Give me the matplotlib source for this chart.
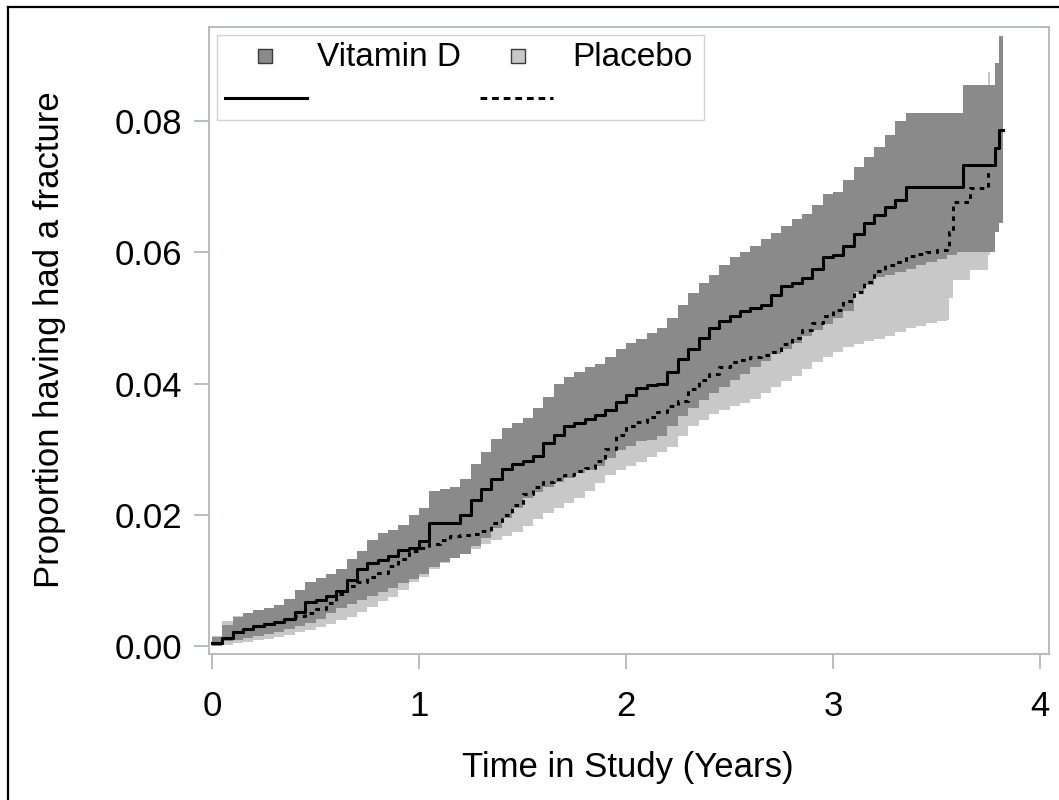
import matplotlib
matplotlib.use("Agg")
import matplotlib.pyplot as plt
from matplotlib.patches import Rectangle
from matplotlib.lines import Line2D

plt.rcParams['font.family'] = ['Liberation Sans', 'DejaVu Sans']

# ---------------- data ----------------
vit_time = [0.00, 0.05, 0.10, 0.15, 0.20, 0.25, 0.30, 0.35, 0.40, 0.45, 0.50, 0.55, 0.60, 0.65,
            0.70, 0.75, 0.80, 0.85, 0.90, 0.95, 1.00, 1.05, 1.10, 1.15, 1.20, 1.25, 1.30, 1.35,
            1.40, 1.45, 1.50, 1.55, 1.60, 1.65, 1.70, 1.75, 1.80, 1.85, 1.90, 1.95, 2.00, 2.05,
            2.10, 2.15, 2.20, 2.25, 2.30, 2.35, 2.40, 2.45, 2.50, 2.55, 2.60, 2.65, 2.70, 2.75,
            2.80, 2.85, 2.90, 2.95, 3.00, 3.05, 3.10, 3.15, 3.20, 3.25, 3.30, 3.35, 3.40, 3.45,
            3.50, 3.55, 3.60, 3.63, 3.78, 3.80, 3.82]
vit_est = [0.0005, 0.0012, 0.0021, 0.0026, 0.0031, 0.0034, 0.0037, 0.0041, 0.0052, 0.0067,
           0.0071, 0.0077, 0.0084, 0.0100, 0.0118, 0.0126, 0.0131, 0.0138, 0.0146, 0.0149,
           0.0160, 0.0187, 0.0187, 0.0187, 0.0200, 0.0222, 0.0240, 0.0255, 0.0270, 0.0277,
           0.0282, 0.0290, 0.0309, 0.0322, 0.0336, 0.0340, 0.0346, 0.0352, 0.0360, 0.0372,
           0.0382, 0.0393, 0.0398, 0.0400, 0.0418, 0.0438, 0.0452, 0.0470, 0.0484, 0.0495,
           0.0503, 0.0510, 0.0515, 0.0520, 0.0535, 0.0548, 0.0553, 0.0560, 0.0575, 0.0593,
           0.0595, 0.0610, 0.0627, 0.0644, 0.0656, 0.0669, 0.0680, 0.0700, 0.0700, 0.0700,
           0.0700, 0.0700, 0.0700, 0.0733, 0.0759, 0.0786, 0.0786]
vit_upper = [0.0014, 0.0032, 0.0044, 0.0050, 0.0055, 0.0058, 0.0062, 0.0072, 0.0085, 0.0098,
             0.0103, 0.0110, 0.0118, 0.0132, 0.0145, 0.0162, 0.0172, 0.0177, 0.0185, 0.0200,
             0.0210, 0.0236, 0.0240, 0.0242, 0.0255, 0.0278, 0.0295, 0.0315, 0.0332, 0.0340,
             0.0348, 0.0362, 0.0380, 0.0400, 0.0410, 0.0418, 0.0425, 0.0430, 0.0440, 0.0452,
             0.0462, 0.0468, 0.0477, 0.0485, 0.0500, 0.0520, 0.0538, 0.0553, 0.0566, 0.0580,
             0.0592, 0.0600, 0.0610, 0.0620, 0.0629, 0.0640, 0.0650, 0.0658, 0.0672, 0.0688,
             0.0692, 0.0710, 0.0730, 0.0745, 0.0760, 0.0778, 0.0800, 0.0812, 0.0812, 0.0812,
             0.0812, 0.0812, 0.0812, 0.0855, 0.0888, 0.0930, 0.0930]
vit_lower = [0.0000, 0.0008, 0.0009, 0.0013, 0.0016, 0.0019, 0.0021, 0.0026, 0.0031, 0.0035,
             0.0042, 0.0050, 0.0058, 0.0064, 0.0070, 0.0077, 0.0082, 0.0088, 0.0096, 0.0102,
             0.0110, 0.0120, 0.0128, 0.0134, 0.0140, 0.0152, 0.0165, 0.0180, 0.0195, 0.0210,
             0.0225, 0.0235, 0.0243, 0.0250, 0.0256, 0.0263, 0.0269, 0.0275, 0.0287, 0.0298,
             0.0305, 0.0312, 0.0314, 0.0320, 0.0335, 0.0350, 0.0362, 0.0375, 0.0385, 0.0395,
             0.0405, 0.0415, 0.0425, 0.0435, 0.0445, 0.0452, 0.0462, 0.0472, 0.0482, 0.0490,
             0.0500, 0.0510, 0.0540, 0.0550, 0.0562, 0.0565, 0.0570, 0.0575, 0.0580, 0.0585,
             0.0590, 0.0595, 0.0600, 0.0600, 0.0630, 0.0645, 0.0645]

pla_time = [0.00, 0.05, 0.10, 0.15, 0.20, 0.25, 0.30, 0.35, 0.40, 0.45, 0.50, 0.55, 0.60, 0.65,
            0.70, 0.75, 0.80, 0.85, 0.90, 0.95, 1.00, 1.05, 1.10, 1.15, 1.20, 1.25, 1.30, 1.35,
            1.40, 1.45, 1.50, 1.55, 1.60, 1.65, 1.70, 1.75, 1.80, 1.85, 1.90, 1.95, 2.00, 2.05,
            2.10, 2.15, 2.20, 2.25, 2.30, 2.35, 2.40, 2.45, 2.50, 2.55, 2.60, 2.65, 2.70, 2.75,
            2.80, 2.85, 2.90, 2.95, 3.00, 3.05, 3.10, 3.15, 3.20, 3.25, 3.30, 3.35, 3.40, 3.45,
            3.50, 3.55, 3.56, 3.58, 3.66, 3.75, 3.76]
pla_est = [0.0005, 0.0013, 0.0021, 0.0026, 0.0030, 0.0033, 0.0036, 0.0041, 0.0046, 0.0051,
           0.0057, 0.0066, 0.0080, 0.0091, 0.0098, 0.0106, 0.0112, 0.0122, 0.0132, 0.0145,
           0.0150, 0.0155, 0.0162, 0.0167, 0.0169, 0.0171, 0.0175, 0.0188, 0.0200, 0.0215,
           0.0232, 0.0243, 0.0250, 0.0255, 0.0260, 0.0266, 0.0272, 0.0282, 0.0300, 0.0322,
           0.0335, 0.0342, 0.0349, 0.0356, 0.0365, 0.0373, 0.0392, 0.0405, 0.0415, 0.0425,
           0.0432, 0.0436, 0.0440, 0.0444, 0.0448, 0.0460, 0.0470, 0.0482, 0.0492, 0.0503,
           0.0512, 0.0525, 0.0540, 0.0555, 0.0572, 0.0580, 0.0585, 0.0594, 0.0598, 0.0601,
           0.0604, 0.0610, 0.0630, 0.0677, 0.0698, 0.0722, 0.0722]
pla_upper = [0.0015, 0.0038, 0.0046, 0.0050, 0.0054, 0.0056, 0.0058, 0.0062, 0.0068, 0.0075,
             0.0083, 0.0095, 0.0110, 0.0122, 0.0130, 0.0140, 0.0150, 0.0160, 0.0172, 0.0185,
             0.0192, 0.0196, 0.0202, 0.0206, 0.0208, 0.0210, 0.0215, 0.0228, 0.0242, 0.0260,
             0.0278, 0.0290, 0.0297, 0.0302, 0.0307, 0.0312, 0.0318, 0.0330, 0.0350, 0.0370,
             0.0385, 0.0392, 0.0400, 0.0408, 0.0418, 0.0428, 0.0450, 0.0463, 0.0475, 0.0485,
             0.0492, 0.0497, 0.0502, 0.0505, 0.0510, 0.0522, 0.0535, 0.0548, 0.0558, 0.0570,
             0.0580, 0.0595, 0.0610, 0.0628, 0.0648, 0.0656, 0.0662, 0.0672, 0.0676, 0.0680,
             0.0683, 0.0690, 0.0715, 0.0770, 0.0795, 0.0875, 0.0875]
pla_lower = [0.0000, 0.0002, 0.0004, 0.0006, 0.0009, 0.0011, 0.0014, 0.0017, 0.0021, 0.0024,
             0.0029, 0.0034, 0.0040, 0.0045, 0.0052, 0.0060, 0.0068, 0.0075, 0.0085, 0.0097,
             0.0106, 0.0118, 0.0127, 0.0135, 0.0141, 0.0148, 0.0155, 0.0162, 0.0168, 0.0174,
             0.0183, 0.0193, 0.0203, 0.0211, 0.0218, 0.0226, 0.0236, 0.0248, 0.0260, 0.0268,
             0.0275, 0.0280, 0.0288, 0.0296, 0.0303, 0.0320, 0.0335, 0.0345, 0.0353, 0.0360,
             0.0365, 0.0370, 0.0376, 0.0386, 0.0395, 0.0404, 0.0412, 0.0422, 0.0432, 0.0440,
             0.0448, 0.0455, 0.0460, 0.0465, 0.0468, 0.0472, 0.0478, 0.0484, 0.0488, 0.0492,
             0.0495, 0.0497, 0.0530, 0.0558, 0.0573, 0.0595, 0.0595]

x_ticks = [0, 1, 2, 3, 4]
y_ticks = [0.00, 0.02, 0.04, 0.06, 0.08]
y_tick_labels = ["0.00", "0.02", "0.04", "0.06", "0.08"]
group_names = ["Vitamin D", "Placebo"]
x_title = "Time in Study (Years)"
y_title = "Proportion having had a fracture"

# ---------------- styling ----------------
W, H = 1059, 800
DARK = '#8a8a8a'
LIGHT = '#c8c8c8'
AXCOL = '#b3b8bc'
FS = 25
LFS = 24

fig = plt.figure(figsize=(W / 100, H / 100), dpi=100)
ax = fig.add_axes([209 / W, (H - 654) / H, 840 / W, 627 / H])

ax.fill_between(pla_time, pla_lower, pla_upper, step='post', color=LIGHT, lw=0)
ax.fill_between(vit_time, vit_lower, vit_upper, step='post', color=DARK, lw=0)
ax.plot(pla_time, pla_est, drawstyle='steps-post', color='black', lw=2.2,
        linestyle=(0, (1.5, 1.7)))
ax.plot(vit_time, vit_est, drawstyle='steps-post', color='black', lw=2.2)

ax.set_xlim(-0.0145, 4.043)
ax.set_ylim(-0.0012, 0.0943)
ax.set_xticks(x_ticks)
ax.set_xticklabels([str(v) for v in x_ticks])
ax.set_yticks(y_ticks)
ax.set_yticklabels(y_tick_labels)
for s in ax.spines.values():
    s.set_color(AXCOL)
    s.set_linewidth(1.3)
ax.tick_params(axis='both', colors=AXCOL, labelcolor='black', labelsize=FS,
               length=11, width=1.3, direction='out')
ax.tick_params(axis='x', pad=15)
ax.tick_params(axis='y', pad=8.5)

fig.text(628 / W, 1 - 768 / H, x_title, ha='center', va='center', fontsize=FS)
fig.text(50 / W, 1 - 340 / H, y_title, ha='center', va='center', fontsize=FS, rotation=90)

# legend (drawn manually in axes coordinates)
def ax_xy(px, py):
    return (px - 209) / 840, (654 - py) / 627

lx0, ly0 = ax_xy(217, 120)
lx1, ly1 = ax_xy(704, 35)
ax.add_patch(Rectangle((lx0, ly0), lx1 - lx0, ly1 - ly0, transform=ax.transAxes,
                       facecolor='white', edgecolor='#d2d2d2', lw=1.0, zorder=5))
for (mx, tx, col, name) in [(265, 317, DARK, group_names[0]), (518, 572, LIGHT, group_names[1])]:
    x, y = ax_xy(mx, 56)
    ax.plot([x], [y], marker='s', markersize=9.5, markerfacecolor=col,
            markeredgecolor='#3a3a3a', markeredgewidth=1.0, transform=ax.transAxes,
            zorder=6, clip_on=False)
    x2, y2 = ax_xy(tx, 57)
    ax.text(x2, y2, name, transform=ax.transAxes, ha='left', va='center',
            fontsize=LFS, zorder=6)
a0 = ax_xy(225, 98)
a1 = ax_xy(307, 98)
ax.add_line(Line2D([a0[0], a1[0]], [a0[1], a1[1]], color='black', lw=2.2,
                   transform=ax.transAxes, zorder=6))
b0 = ax_xy(480, 98)
b1 = ax_xy(553, 98)
ax.add_line(Line2D([b0[0], b1[0]], [b0[1], b1[1]], color='black', lw=2.2,
                   linestyle=(0, (2.2, 1.6)), transform=ax.transAxes, zorder=6))

# outer frame (top and left edges visible)
fig.add_artist(Line2D([8 / W, 1.0], [1 - 7 / H, 1 - 7 / H], color='black', lw=1.6,
                      transform=fig.transFigure))
fig.add_artist(Line2D([8 / W, 8 / W], [0.0, 1 - 7 / H], color='black', lw=1.6,
                      transform=fig.transFigure))

fig.savefig('out.png', dpi=100)
